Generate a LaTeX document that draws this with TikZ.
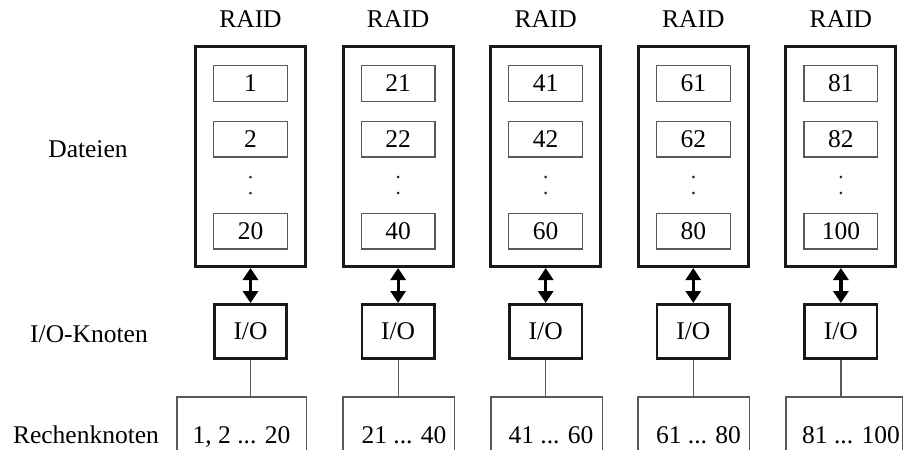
\documentclass[tikz,border=0pt]{standalone}
\usepackage{fontspec}
\setmainfont{Liberation Serif}
\usetikzlibrary{arrows.meta}
\begin{document}
\begin{tikzpicture}[x=1pt,y=-1pt,
  lbl/.style={font=\fontsize{25.5}{30}\selectfont, inner sep=0pt},
  raidbox/.style={draw=black!90, line width=3pt, inner sep=0pt},
  filebox/.style={draw=black!65, line width=1.2pt, minimum width=73.8pt, minimum height=35.8pt, inner sep=0pt, font=\fontsize{25.5}{30}\selectfont},
  iobox/.style={draw=black!90, line width=2.6pt, minimum width=72.4pt, minimum height=54.4pt, inner sep=0pt, font=\fontsize{25.5}{30}\selectfont},
  dbl/.style={line width=3.2pt, {Triangle[width=15pt,length=12pt]}-{Triangle[width=15pt,length=12pt]}},
  grayline/.style={draw=black!65, line width=1.2pt},
  rkbox/.style={inner sep=0pt, minimum height=80pt}
]
\useasboundingbox (0,0) rectangle (903,450);

\node[lbl, anchor=base] (ldat) at (88,157) {Dateien};
\node[lbl, anchor=base] (lio) at (89,342) {I/O-Knoten};
\node[lbl, anchor=base] (lrk) at (86,443) {Rechenknoten};

\foreach \i/\na/\nb/\nc in {1/1/2/20, 2/21/22/40, 3/41/42/60, 4/61/62/80, 5/81/82/100} {
  \pgfmathsetmacro\cx{250.5+147.6*(\i-1)}
  \node[lbl, anchor=base] (raidlbl\i) at (\cx,27) {RAID};
  \node[raidbox, minimum width=110pt, minimum height=220pt] (raid\i) at (\cx,156.5) {};
  \node[filebox] (fa\i) at (\cx,83.5) {\na};
  \node[filebox] (fb\i) at (\cx,139) {\nb};
  \node[filebox] (fc\i) at (\cx,231) {\nc};
  \fill[black!85] (\cx,177) circle (1.5pt) (\cx,193) circle (1.5pt);
  \node[iobox] (io\i) at (\cx,331.5) {I/O};
  \draw[dbl] (raid\i.south) -- (io\i.north);
}

\foreach \i/\l/\r/\t/\lab in {1/177/306/241.5/{1, 2 ... 20}, 2/343/454/404/{21 ... 40}, 3/491/602/551/{41 ... 60}, 4/638/749/698.5/{61 ... 80}, 5/786/902/851/{81 ... 100}} {
  \pgfmathsetmacro\w{\r-\l}
  \node[rkbox, minimum width=\w pt, anchor=north west] (rk\i) at (\l,397) {};
  \draw[grayline] (rk\i.south west) -- (rk\i.north west) -- (rk\i.north east) -- (rk\i.south east);
  \node[lbl, anchor=base] (rkt\i) at (\t,443) {\lab};
  \draw[grayline] (io\i.south) -- (io\i.south |- rk\i.north);
}
\end{tikzpicture}
\end{document}
